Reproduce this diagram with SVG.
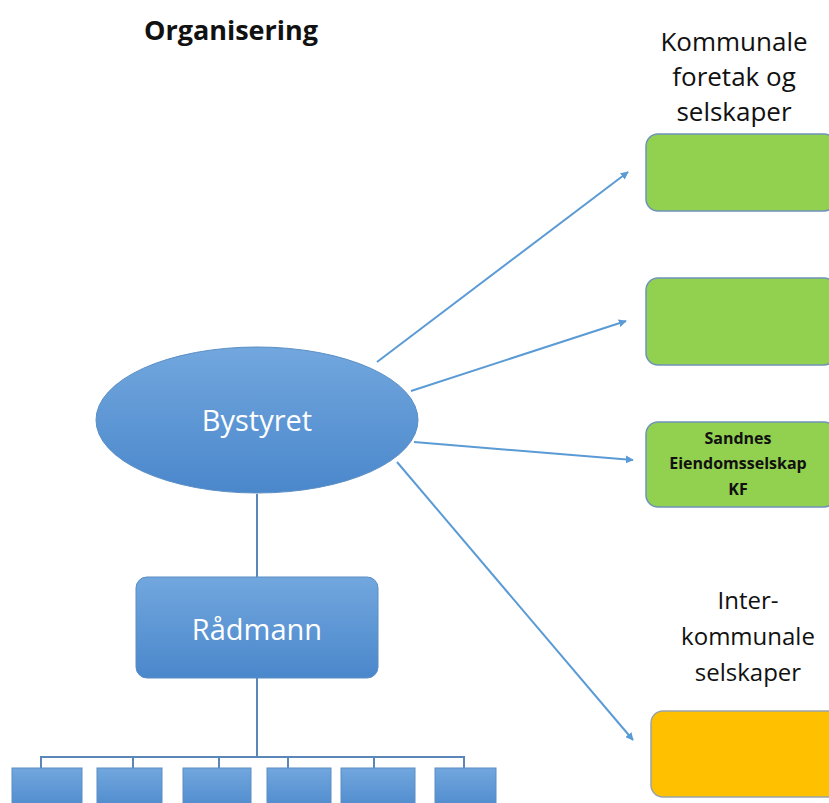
<svg xmlns="http://www.w3.org/2000/svg" width="829" height="803" viewBox="0 0 829 803">
<defs>
<linearGradient id="blue" x1="0" y1="0" x2="0" y2="1">
<stop offset="0" stop-color="#72a7de"/>
<stop offset="1" stop-color="#4a87cb"/>
</linearGradient>
<marker id="arr" viewBox="0 0 10 10" refX="9" refY="5" markerWidth="4" markerHeight="4" orient="auto" markerUnits="strokeWidth">
<path d="M0,0 L10,5 L0,10 z" fill="#5b9bd5"/>
</marker>
<style>
.t{font-family:"Open Sans","Liberation Sans",sans-serif;text-anchor:middle;fill:#111}
.w{font-family:"Open Sans","Liberation Sans",sans-serif;text-anchor:middle;fill:#fff}
.bl{fill:url(#blue);stroke:#5a8ec4;stroke-width:1}
.gr{fill:#92d050;stroke:#6f93b8;stroke-width:1.5}
.or{fill:#ffc000;stroke:#9aa4a8;stroke-width:1.5}
.c{stroke:#5b9bd5;stroke-width:2;fill:none}
.o{stroke:#5b87b8;stroke-width:2;fill:none}
</style>
</defs>
<rect width="829" height="803" fill="#fff"/>
<text class="t" x="231" y="40" font-size="27" font-weight="bold">Organisering</text>
<g id="connectors">
<line class="o" x1="257" y1="494" x2="257" y2="577"/>
<line class="o" x1="257" y1="678" x2="257" y2="757"/>
<polyline class="o" points="41,768 41,757 464,757 464,768"/>
<line class="o" x1="133" y1="757" x2="133" y2="768"/>
<line class="o" x1="219" y1="757" x2="219" y2="768"/>
<line class="o" x1="288" y1="757" x2="288" y2="768"/>
<line class="o" x1="374" y1="757" x2="374" y2="768"/>
<line class="c" x1="377" y1="362" x2="628" y2="172" marker-end="url(#arr)"/>
<line class="c" x1="411" y1="391" x2="626" y2="321" marker-end="url(#arr)"/>
<line class="c" x1="414" y1="442" x2="633" y2="460" marker-end="url(#arr)"/>
<line class="c" x1="397" y1="462" x2="633" y2="740" marker-end="url(#arr)"/>
</g>
<g id="bystyret">
<ellipse class="bl" cx="257" cy="420" rx="161" ry="73"/>
<text class="w" x="257" y="431" font-size="29">Bystyret</text>
</g>
<g id="radmann">
<rect class="bl" x="136" y="577" width="242" height="101" rx="11"/>
<text class="w" x="257" y="640" font-size="29">Rådmann</text>
</g>
<g id="label-kommunale">
<text class="t" x="734" y="51" font-size="26">Kommunale</text>
<text class="t" x="734" y="86" font-size="26">foretak og</text>
<text class="t" x="734" y="121" font-size="26">selskaper</text>
</g>
<g id="green1"><rect class="gr" x="646" y="134" width="190" height="77" rx="12"/></g>
<g id="green2"><rect class="gr" x="646" y="278" width="190" height="87" rx="12"/></g>
<g id="sandnes">
<rect class="gr" x="646" y="422" width="190" height="85" rx="12"/>
<text class="t" x="738" y="444" font-size="16" font-weight="bold">Sandnes</text>
<text class="t" x="738" y="469" font-size="16" font-weight="bold">Eiendomsselskap</text>
<text class="t" x="738" y="495" font-size="16" font-weight="bold">KF</text>
</g>
<g id="label-inter">
<text class="t" x="748" y="609" font-size="24">Inter-</text>
<text class="t" x="748" y="645" font-size="24">kommunale</text>
<text class="t" x="748" y="681" font-size="24">selskaper</text>
</g>
<g id="orange"><rect class="or" x="651" y="711" width="190" height="86" rx="12"/></g>
<g id="unit1"><rect class="bl" x="12" y="768" width="70" height="45"/></g>
<g id="unit2"><rect class="bl" x="97" y="768" width="65" height="45"/></g>
<g id="unit3"><rect class="bl" x="183" y="768" width="68" height="45"/></g>
<g id="unit4"><rect class="bl" x="267" y="768" width="64" height="45"/></g>
<g id="unit5"><rect class="bl" x="341" y="768" width="74" height="45"/></g>
<g id="unit6"><rect class="bl" x="435" y="768" width="61" height="45"/></g>
</svg>
